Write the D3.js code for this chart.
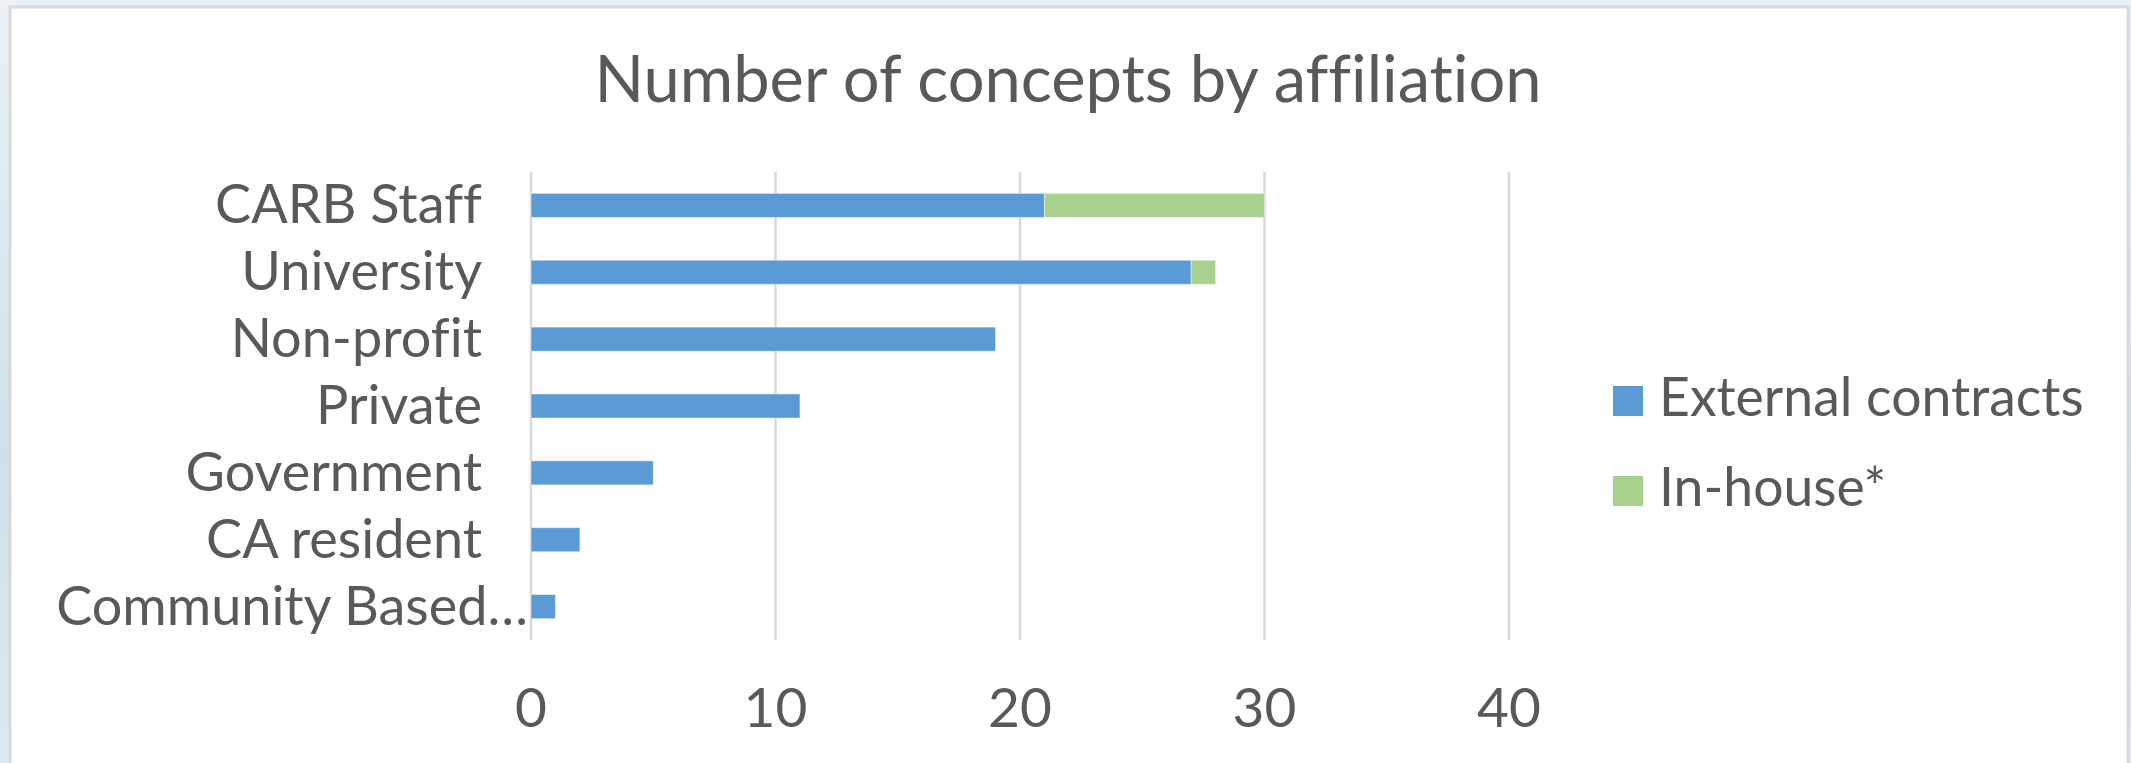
<!DOCTYPE html>
<html>
<head>
<meta charset="utf-8">
<script src="https://cdn.jsdelivr.net/npm/d3@7"></script>
<style>
  body { margin: 0; background: #fff; }
  svg { display: block; }
  text { font-variant-ligatures: none; font-feature-settings: "liga" 0, "clig" 0; }
</style>
</head>
<body>
<div id="chart"></div>
<script>
// Chart data
const categories = ['CARB Staff', 'University', 'Non-profit', 'Private', 'Government', 'CA resident', 'Community Based\u2026'];
const externalContracts = [21, 27, 19, 11, 5, 2, 1];
const inHouse = [9, 1, 0, 0, 0, 0, 0];
const seriesNames = ['External contracts', 'In-house*'];
const seriesColors = ['#5b9bd5', '#a9d18e'];
const xTicks = [0, 10, 20, 30, 40];
const chartTitle = 'Number of concepts by affiliation';

const W = 2131, H = 763;
const FONT = 'Lato, "Open Sans", sans-serif';
const TEXT = '#595959';

const svg = d3.select('#chart').append('svg')
  .attr('width', W)
  .attr('height', H);

// Backdrop outside the chart panel (bluish slide background)
const defs = svg.append('defs');
const grad = defs.append('linearGradient')
  .attr('id', 'bg').attr('x1', 0).attr('y1', 0).attr('x2', 0).attr('y2', 1);
grad.append('stop').attr('offset', '0%').attr('stop-color', '#eaf2f8');
grad.append('stop').attr('offset', '60%').attr('stop-color', '#cfe0ec');
grad.append('stop').attr('offset', '100%').attr('stop-color', '#dde9f1');
svg.append('rect').attr('width', W).attr('height', H).attr('fill', 'url(#bg)');

// Chart panel
svg.append('rect')
  .attr('x', 10).attr('y', 7)
  .attr('width', W - 13).attr('height', H)
  .attr('fill', '#fff')
  .attr('stroke', '#d9d9d9')
  .attr('stroke-width', 3);

// Title
svg.append('text')
  .attr('x', 1068)
  .attr('y', 102)
  .attr('text-anchor', 'middle')
  .attr('fill', TEXT)
  .attr('font-size', '65px')
  .attr('font-family', FONT)
  .text(chartTitle);

// Plot area
const plot = { left: 531, right: 1509, top: 172, bottom: 640 };

const x = d3.scaleLinear()
  .domain([0, 40])
  .range([plot.left, plot.right]);

const y = d3.scaleBand()
  .domain(categories)
  .range([plot.top, plot.bottom])
  .paddingInner(0.64)
  .paddingOuter(0.32);

// Gridlines
svg.append('g')
  .selectAll('line')
  .data(xTicks)
  .join('line')
  .attr('x1', d => x(d))
  .attr('x2', d => x(d))
  .attr('y1', plot.top)
  .attr('y2', plot.bottom)
  .attr('stroke', '#d9d9d9')
  .attr('stroke-width', 2.5);

// Stacked bars
const table = categories.map((c, i) => ({
  category: c,
  external: externalContracts[i],
  inhouse: inHouse[i]
}));
const stack = d3.stack().keys(['external', 'inhouse']);
const layers = stack(table);

svg.append('g')
  .selectAll('g')
  .data(layers)
  .join('g')
  .attr('fill', (d, i) => seriesColors[i])
  .selectAll('rect')
  .data(d => d.filter(s => s[1] > s[0]))
  .join('rect')
  .attr('x', d => x(d[0]))
  .attr('y', d => y(d.data.category))
  .attr('width', d => x(d[1]) - x(d[0]))
  .attr('height', y.bandwidth())
  .attr('stroke', 'rgba(255,255,255,0.45)')
  .attr('stroke-width', 1);

// Category labels (truncated ones run up to the axis, like Excel does)
svg.append('g')
  .selectAll('text')
  .data(categories)
  .join('text')
  .attr('x', d => d.endsWith('\u2026') ? x(0) - 3 : 482)
  .attr('y', d => y(d) + y.bandwidth() / 2 + 18)
  .attr('text-anchor', 'end')
  .attr('fill', TEXT)
  .attr('font-size', '54px')
  .attr('font-family', FONT)
  .text(d => d);

// X tick labels
svg.append('g')
  .selectAll('text')
  .data(xTicks)
  .join('text')
  .attr('x', d => x(d))
  .attr('y', 727)
  .attr('text-anchor', 'middle')
  .attr('fill', TEXT)
  .attr('font-size', '55px')
  .attr('font-family', FONT)
  .text(d => d);

// Legend
const legend = svg.append('g')
  .selectAll('g')
  .data(seriesNames)
  .join('g')
  .attr('transform', (d, i) => `translate(1613, ${386 + i * 90})`);

legend.append('rect')
  .attr('width', 30)
  .attr('height', 30)
  .attr('fill', (d, i) => seriesColors[i]);

legend.append('text')
  .attr('x', 46)
  .attr('y', 30)
  .attr('fill', TEXT)
  .attr('font-size', '53.5px')
  .attr('font-family', FONT)
  .text(d => d);
</script>
</body>
</html>
